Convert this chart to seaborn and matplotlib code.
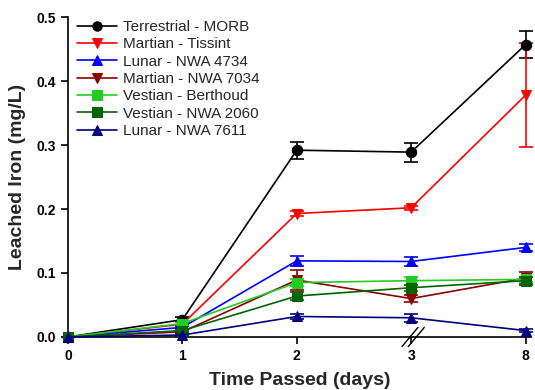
import numpy as np
import pandas as pd
import matplotlib
matplotlib.use("Agg")
import matplotlib.pyplot as plt
import seaborn as sns

# -------------------------------
# Data
# -------------------------------

days = ["0", "1", "2", "3", "8"]

samples = [
    "Terrestrial - MORB",
    "Martian - Tissint",
    "Lunar - NWA 4734",
    "Martian - NWA 7034",
    "Vestian - Berthoud",
    "Vestian - NWA 2060",
    "Lunar - NWA 7611",
]

morb = [0.0, 0.027, 0.292, 0.289, 0.457]
tissint = [0.0, 0.020, 0.193, 0.202, 0.378]
nwa4734 = [0.0, 0.015, 0.119, 0.118, 0.140]
nwa7034 = [0.0, 0.008, 0.089, 0.060, 0.092]
berthoud = [0.0, 0.021, 0.085, 0.088, 0.090]
nwa2060 = [0.0, 0.010, 0.064, 0.077, 0.088]
nwa7611 = [0.0, 0.003, 0.032, 0.030, 0.010]

morb_err = [0.0, 0.004, 0.013, 0.015, 0.021]
tissint_err = [0.0, 0.003, 0.004, 0.003, 0.081]
nwa4734_err = [0.0, 0.002, 0.008, 0.007, 0.006]
nwa7034_err = [0.0, 0.002, 0.016, 0.006, 0.010]
berthoud_err = [0.0, 0.003, 0.006, 0.006, 0.004]
nwa2060_err = [0.0, 0.002, 0.006, 0.005, 0.005]
nwa7611_err = [0.0, 0.001, 0.004, 0.006, 0.002]

values = [morb, tissint, nwa4734, nwa7034, berthoud, nwa2060, nwa7611]
errors = [morb_err, tissint_err, nwa4734_err, nwa7034_err,
          berthoud_err, nwa2060_err, nwa7611_err]

colors = ["black", "#ff0000", "#0000ff", "#8b0000", "#22cc22", "#006400", "#000080"]
markers = ["o", "v", "^", "v", "s", "s", "^"]

rows = []
for name, vals, errs in zip(samples, values, errors):
    for i, (d, v, e) in enumerate(zip(days, vals, errs)):
        rows.append({"sample": name, "pos": i, "day": d, "iron": v, "err": e})
df = pd.DataFrame(rows)

# -------------------------------
# Plot
# -------------------------------

sns.set_style("ticks")
plt.rcParams["font.family"] = ["Liberation Sans", "DejaVu Sans"]

fig = plt.figure(figsize=(5.35, 3.9), dpi=100)
ax = fig.add_axes([0.127, 0.136, 0.866, 0.82])

for name, c, m in zip(samples, colors, markers):
    sub = df[df["sample"] == name]
    ax.errorbar(sub["pos"], sub["iron"], yerr=sub["err"], fmt="none",
                ecolor=c, elinewidth=1.2, capsize=5, capthick=1.2,
                clip_on=False, zorder=2)
    sns.lineplot(data=sub, x="pos", y="iron", color=c, marker=m,
                 markersize=7.5, markeredgecolor=c, linewidth=1.2,
                 label=name, ax=ax, clip_on=False, zorder=3)

ax.set_xlim(0, 4.05)
ax.set_ylim(0, 0.5)
ax.set_xticks(range(len(days)))
ax.set_xticklabels(days)
ax.set_yticks(np.arange(0, 0.51, 0.1))
ax.set_yticklabels([f"{t:.1f}" for t in np.arange(0, 0.51, 0.1)])

for lab in ax.get_xticklabels() + ax.get_yticklabels():
    lab.set_fontweight("bold")
    lab.set_fontsize(10)
ax.tick_params(direction="out", length=5, width=1.2, colors="black")

ax.set_xlabel("Time Passed (days)", fontsize=14, fontweight="bold", labelpad=7)
ax.set_ylabel("Leached Iron (mg/L)", fontsize=14, fontweight="bold", labelpad=8)

sns.despine(ax=ax)
for s in ["left", "bottom"]:
    ax.spines[s].set_linewidth(1.2)
    ax.spines[s].set_color("black")

# axis break marks between 3 and 8
trans = ax.get_xaxis_transform()
for dx in (-0.01, 0.045):
    ax.plot([3.0 + dx - 0.07, 3.0 + dx + 0.07], [-0.03, 0.03], color="black",
            linewidth=1.0, transform=trans, clip_on=False)

leg = ax.legend(loc="upper left", bbox_to_anchor=(0.0, 1.02), frameon=False,
                fontsize=11, handlelength=2.6, handletextpad=0.4,
                labelspacing=0.22, borderaxespad=0.2, markerscale=0.9)

fig.savefig("out.png", dpi=100)
plt.close(fig)
